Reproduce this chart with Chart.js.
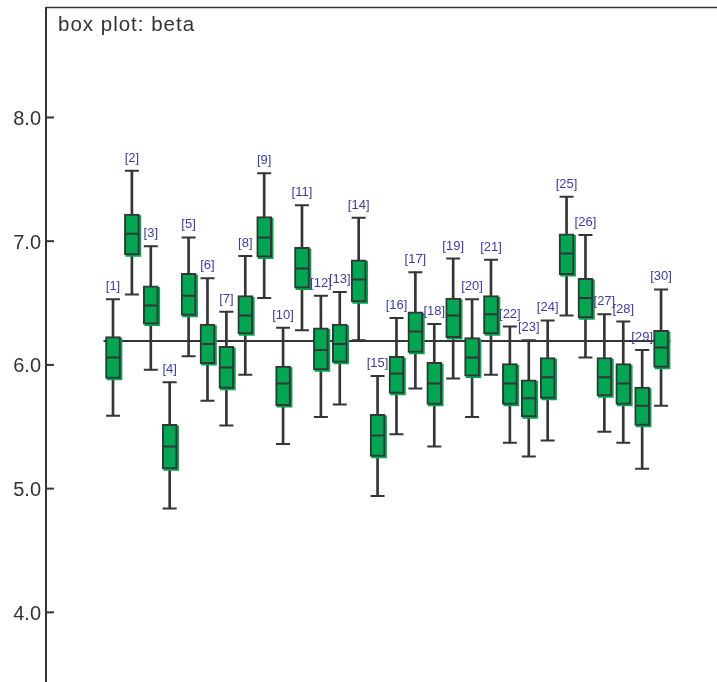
<!DOCTYPE html>
<html>
<head>
<meta charset="utf-8">
<script src="https://cdn.jsdelivr.net/npm/chart.js@4"></script>
<style>
html,body{margin:0;padding:0;background:#fff;}
#wrap{position:relative;width:717px;height:682px;}
</style>
</head>
<body>
<div id="wrap"><canvas id="c"></canvas></div>
<script>
// ---- data ----
const categories = ['[1]','[2]','[3]','[4]','[5]','[6]','[7]','[8]','[9]','[10]',
  '[11]','[12]','[13]','[14]','[15]','[16]','[17]','[18]','[19]','[20]',
  '[21]','[22]','[23]','[24]','[25]','[26]','[27]','[28]','[29]','[30]'];
const lowWhisker = [5.59,6.57,5.96,4.84,6.07,5.71,5.51,5.92,6.54,5.36,6.28,5.58,5.68,6.20,4.94,5.44,5.81,5.34,5.89,5.58,5.92,5.37,5.26,5.39,6.40,6.06,5.46,5.37,5.16,5.67];
const q1 = [5.89,6.89,6.33,5.16,6.40,6.01,5.81,6.25,6.87,5.67,6.62,5.96,6.02,6.51,5.26,5.77,6.10,5.68,6.22,5.91,6.25,5.68,5.58,5.73,6.73,6.38,5.75,5.68,5.51,5.98];
const median = [6.06,7.06,6.48,5.34,6.56,6.17,5.98,6.40,7.03,5.85,6.78,6.12,6.17,6.69,5.43,5.93,6.27,5.85,6.40,6.06,6.41,5.85,5.73,5.90,6.90,6.54,5.90,5.85,5.67,6.14];
const q3 = [6.23,7.22,6.64,5.52,6.74,6.33,6.15,6.56,7.20,5.99,6.95,6.30,6.33,6.85,5.60,6.07,6.43,6.02,6.54,6.22,6.56,6.01,5.88,6.06,7.06,6.70,6.06,6.01,5.82,6.28];
const highWhisker = [6.53,7.57,6.96,5.86,7.03,6.70,6.43,6.88,7.55,6.30,7.29,6.56,6.59,7.19,5.91,6.38,6.75,6.33,6.86,6.53,6.85,6.31,6.20,6.36,7.36,7.05,6.41,6.35,6.12,6.61];
const refValue = 6.194;
const yTicks = [4.0, 5.0, 6.0, 7.0, 8.0];
const titleText = 'box plot: beta';

// ---- build library structures ----
const pos = categories.map((_, i) => i + 1);
const whiskerData = pos.map((x, i) => ({x, y: [lowWhisker[i], highWhisker[i]]}));
const boxData = pos.map((x, i) => ({x, y: [q1[i], q3[i]]}));
const medianData = pos.map((x, i) => ({x, y: median[i]}));
const capData = pos.map((x, i) => ({x, y: lowWhisker[i]})).concat(pos.map((x, i) => ({x, y: highWhisker[i]})));
const refData = [{x: pos[0] - 0.5, y: refValue}, {x: pos[pos.length - 1] + 0.5, y: refValue}];

const DARK = '#353535';
const GREEN = '#00a651';
Chart.defaults.font.family = '"Liberation Sans", Arial, Helvetica, sans-serif';

// shadow dataset is drawn shifted by a small pixel offset (style only)
const shadowShift = {
  id: 'shadowShift',
  beforeDatasetDraw(chart, args) {
    if (chart.data.datasets[args.index].isShadow) {
      chart.ctx.save();
      chart.ctx.translate(1.5, 1.5);
    }
  },
  afterDatasetDraw(chart, args) {
    if (chart.data.datasets[args.index].isShadow) chart.ctx.restore();
  }
};

const decor = {
  id: 'decor',
  afterDraw(chart) {
    const {ctx, chartArea, scales} = chart;
    const ys = scales.y, xs = scales.x;
    ctx.save();
    // top frame line
    ctx.strokeStyle = DARK;
    ctx.lineWidth = 1.5;
    ctx.beginPath();
    ctx.moveTo(chartArea.left, chartArea.top);
    ctx.lineTo(chartArea.right, chartArea.top);
    ctx.stroke();
    // inward tick marks
    ctx.lineWidth = 2;
    ys.ticks.forEach(t => {
      const y = ys.getPixelForValue(t.value);
      ctx.beginPath();
      ctx.moveTo(chartArea.left, y);
      ctx.lineTo(chartArea.left + 8, y);
      ctx.stroke();
    });
    // title
    ctx.fillStyle = '#333';
    ctx.font = '20.5px "Liberation Sans", Arial, sans-serif';
    try { ctx.letterSpacing = '1px'; } catch (e) {}
    ctx.textAlign = 'left';
    ctx.textBaseline = 'alphabetic';
    ctx.fillText(titleText, chartArea.left + 12, chartArea.top + 23);
    try { ctx.letterSpacing = '0px'; } catch (e) {}
    // labels above boxes
    ctx.fillStyle = '#3d3d9e';
    ctx.font = '13px "Liberation Sans", Arial, sans-serif';
    ctx.textAlign = 'center';
    categories.forEach((name, i) => {
      const x = xs.getPixelForValue(pos[i]);
      const y = ys.getPixelForValue(highWhisker[i]) - 9;
      ctx.fillText(name, x, y);
    });
    ctx.restore();
  }
};

new Chart(document.getElementById('c'), {
  type: 'bar',
  data: {
    datasets: [
      {
        type: 'line', data: refData, borderColor: DARK, borderWidth: 2,
        pointRadius: 0, fill: false, order: 10
      },
      {
        type: 'bar', data: whiskerData, backgroundColor: DARK, borderWidth: 0,
        barThickness: 2, grouped: false, order: 5
      },
      {
        type: 'bar', data: boxData, backgroundColor: GREEN, borderWidth: 0,
        barThickness: 15, grouped: false, order: 4, isShadow: true
      },
      {
        type: 'bar', data: boxData, backgroundColor: GREEN, borderColor: DARK,
        borderWidth: 2, borderSkipped: false, barThickness: 15, grouped: false, order: 3
      },
      {
        type: 'scatter', data: medianData, pointStyle: 'line', pointRadius: 7,
        borderColor: DARK, borderWidth: 2, order: 1
      },
      {
        type: 'scatter', data: capData, pointStyle: 'line', pointRadius: 7,
        borderColor: DARK, borderWidth: 2, order: 1
      }
    ]
  },
  options: {
    responsive: true,
    maintainAspectRatio: false,
    animation: false,
    events: [],
    layout: {autoPadding: false, padding: {top: 7.5, right: 0, bottom: 0, left: 0}},
    plugins: {legend: {display: false}, tooltip: {enabled: false}, title: {display: false}},
    scales: {
      x: {
        type: 'linear', min: -2.545, max: 32.96, offset: false, display: false
      },
      y: {
        type: 'linear', min: 3.437, max: 8.889,
        afterBuildTicks: s => { s.ticks = yTicks.map(v => ({value: v})); },
        afterFit: s => { s.width = 46; s.paddingTop = 0; s.paddingBottom = 0; },
        grid: {display: false, drawOnChartArea: false, drawTicks: false},
        border: {display: true, color: DARK, width: 2},
        ticks: {
          color: '#333', font: {size: 20}, padding: 5, labelOffset: 2,
          callback: v => Number(v).toFixed(1)
        }
      }
    }
  },
  plugins: [shadowShift, decor]
});
</script>
</body>
</html>
